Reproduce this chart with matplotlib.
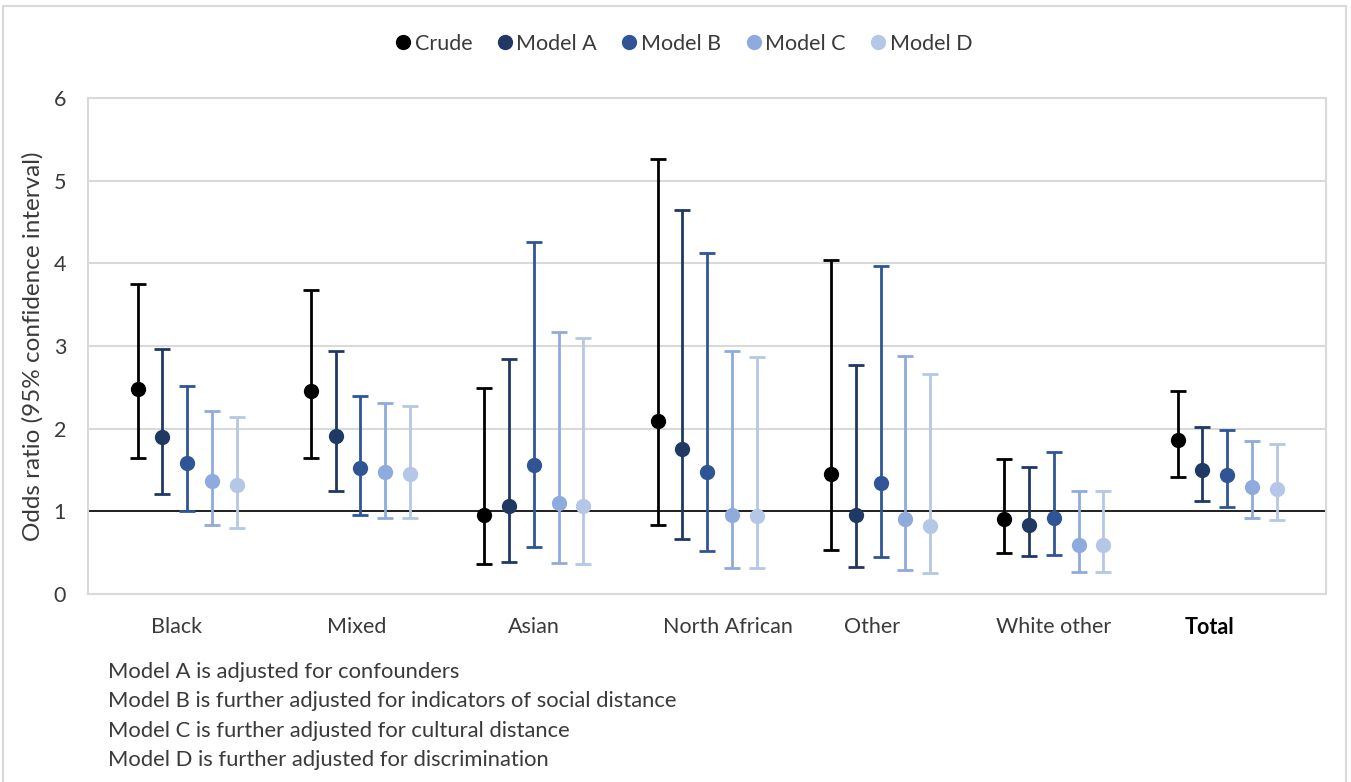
import matplotlib.pyplot as plt
import numpy as np
from matplotlib.patches import Rectangle
from matplotlib.lines import Line2D

plt.rcParams["font.family"] = ["Lato", "DejaVu Sans"]

# ---- Data ------------------------------------------------------------------
categories = ["Black", "Mixed", "Asian", "North African", "Other", "White other", "Total"]
series_names = ["Crude", "Model A", "Model B", "Model C", "Model D"]

crude_or = [2.48, 2.46, 0.95, 2.09, 1.45, 0.91, 1.86]
crude_lo = [1.64, 1.64, 0.36, 0.83, 0.53, 0.50, 1.42]
crude_hi = [3.75, 3.68, 2.49, 5.26, 4.04, 1.63, 2.46]

a_or = [1.90, 1.91, 1.06, 1.76, 0.96, 0.83, 1.50]
a_lo = [1.21, 1.25, 0.39, 0.67, 0.33, 0.46, 1.12]
a_hi = [2.96, 2.94, 2.84, 4.65, 2.77, 1.54, 2.02]

b_or = [1.58, 1.52, 1.56, 1.47, 1.34, 0.92, 1.44]
b_lo = [1.00, 0.96, 0.57, 0.52, 0.45, 0.47, 1.05]
b_hi = [2.52, 2.40, 4.26, 4.12, 3.97, 1.72, 1.98]

c_or = [1.37, 1.47, 1.10, 0.95, 0.91, 0.59, 1.30]
c_lo = [0.83, 0.92, 0.37, 0.31, 0.29, 0.27, 0.92]
c_hi = [2.21, 2.31, 3.17, 2.94, 2.88, 1.25, 1.85]

d_or = [1.32, 1.45, 1.06, 0.94, 0.82, 0.59, 1.27]
d_lo = [0.80, 0.92, 0.36, 0.31, 0.25, 0.27, 0.90]
d_hi = [2.14, 2.28, 3.10, 2.87, 2.66, 1.25, 1.82]

footnotes = [
    "Model A is adjusted for confounders",
    "Model B is further adjusted for indicators of social distance",
    "Model C is further adjusted for cultural distance",
    "Model D is further adjusted for discrimination",
]

# ---- Style -----------------------------------------------------------------
COLORS = ["#000000", "#1F3864", "#2F5597", "#8FAADC", "#B4C7E7"]
OFFSETS = [-0.285, -0.143, 0.0, 0.143, 0.285]
LABEL_SHIFT = [-0.06, -0.02, 0.0, 0.12, -0.05, 0.0, -0.10]
GRID = "#D9D9D9"
TEXT = "#3A3A3A"
FS = 15.5

fig = plt.figure(figsize=(13.51, 7.82), dpi=100)
fig.patches.append(Rectangle((3 / 1351, -0.01), 1343 / 1351, 1 - 6 / 782 + 0.01,
                             transform=fig.transFigure, fill=False,
                             edgecolor=GRID, linewidth=1.5))

ax = fig.add_axes([0.0654, 0.2404, 0.9161, 0.6343])

x = np.arange(len(categories))
all_series = [
    (crude_or, crude_lo, crude_hi),
    (a_or, a_lo, a_hi),
    (b_or, b_lo, b_hi),
    (c_or, c_lo, c_hi),
    (d_or, d_lo, d_hi),
]

ax.axhline(1, color="black", linewidth=1.2, zorder=2)

for (vals, lo, hi), col, off in zip(all_series, COLORS, OFFSETS):
    vals = np.array(vals)
    yerr = np.vstack([vals - np.array(lo), np.array(hi) - vals])
    ax.errorbar(x + off, vals, yerr=yerr, fmt="none", ecolor=col,
                elinewidth=2, capsize=5.5, capthick=2, zorder=3)
    ax.plot(x + off, vals, "o", color=col, markersize=11,
            markeredgewidth=0, zorder=4)

ax.set_xlim(-0.57, 6.57)
ax.set_ylim(0, 6)
ax.set_yticks(range(0, 7))
ax.set_yticklabels([str(i) for i in range(0, 7)], fontsize=FS, color=TEXT)
ax.tick_params(axis="y", length=0, pad=16)
ax.set_xticks([])
ax.grid(axis="y", color=GRID, linewidth=1.5, zorder=0)
ax.set_axisbelow(True)
for s in ax.spines.values():
    s.set_color(GRID)
    s.set_linewidth(1.5)

ax.set_ylabel("Odds ratio (95% confidence interval)", fontsize=17.5, color=TEXT,
              labelpad=7)

# Category labels under each cluster
for i, (name, sh) in enumerate(zip(categories, LABEL_SHIFT)):
    bold = name == "Total"
    ax.text(i + sh, -0.40, name, ha="center", va="center", fontsize=FS,
            color="black" if bold else TEXT,
            fontweight="bold" if bold else "normal")

# Footnotes describing the models
for k, line in enumerate(footnotes):
    fig.text(108 / 1351, 1 - (672 + 29.4 * k) / 782, line, ha="left", va="center",
             fontsize=15.8, color=TEXT)

handles = [Line2D([], [], marker="o", linestyle="none", color=c, markersize=11,
                  markeredgewidth=0) for c in COLORS]
fig.legend(handles, series_names, loc="center", bbox_to_anchor=(0.505, 1 - 44 / 782),
           ncol=5, frameon=False, fontsize=FS, handletextpad=0.05,
           columnspacing=1.0, labelcolor=TEXT, handlelength=1.0)

fig.savefig("out.png", dpi=100)
